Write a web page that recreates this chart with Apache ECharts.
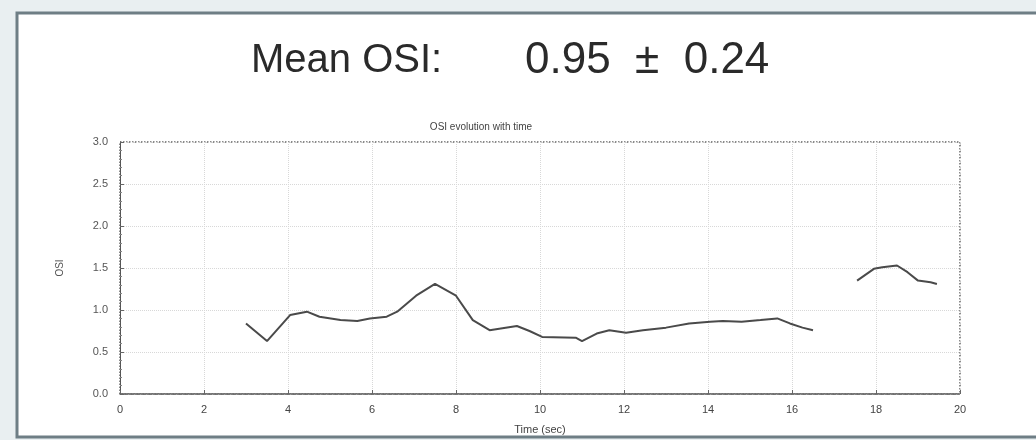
<!DOCTYPE html>
<html>
<head>
<meta charset="utf-8">
<script src="https://cdn.jsdelivr.net/npm/echarts@6/dist/echarts.min.js"></script>
<style>
html,body{margin:0;padding:0;background:#e9eff1;}
#c{width:1036px;height:440px;}
</style>
</head>
<body>
<div id="c"></div>
<script>
// Time (sec) and OSI values; null marks the gap in the trace
var times = [3.0, 3.5, 4.05, 4.45, 4.75, 5.25, 5.65, 5.95, 6.35, 6.6, 7.05, 7.5, 8.0, 8.4, 8.8, 9.45, 9.75, 10.05, 10.85, 11.0, 11.35, 11.65, 12.05, 12.45, 13.0, 13.55, 14.05, 14.35, 14.8, 15.25, 15.65, 15.95, 16.25, 16.5, 17.0, 17.55, 17.95, 18.15, 18.5, 18.75, 19.0, 19.3, 19.45];
var osi =   [0.84, 0.63, 0.94, 0.98, 0.92, 0.88, 0.87, 0.90, 0.92, 0.98, 1.17, 1.31, 1.17, 0.88, 0.76, 0.81, 0.75, 0.68, 0.67, 0.63, 0.72, 0.76, 0.73, 0.76, 0.79, 0.84, 0.86, 0.87, 0.86, 0.88, 0.90, 0.84, 0.79, 0.76, null, 1.35, 1.49, 1.51, 1.53, 1.45, 1.35, 1.33, 1.31];
var xTicks = [0, 2, 4, 6, 8, 10, 12, 14, 16, 18, 20];
var yTicks = [0.0, 0.5, 1.0, 1.5, 2.0, 2.5, 3.0];
var mainTitle = 'Mean OSI:';
var mainValue = '0.95  ±  0.24';
var subTitle = 'OSI evolution with time';

var pts = times.map(function (t, i) { return [t, osi[i]]; });

var chart = echarts.init(document.getElementById('c'), null, {renderer: 'canvas'});
chart.setOption({
  backgroundColor: 'transparent',
  animation: false,
  graphic: [
    {type: 'rect', shape: {x: 17, y: 13, width: 1030, height: 424}, style: {fill: '#ffffff', stroke: '#6e7e85', lineWidth: 3}, z: -10, silent: true}
  ],
  title: [
    {text: mainTitle, left: 246, top: 36, textStyle: {fontFamily: 'Liberation Sans', fontSize: 40, fontWeight: 'normal', color: '#2a2a2a'}},
    {text: mainValue, left: 520, top: 34, textStyle: {fontFamily: 'Liberation Sans', fontSize: 44, fontWeight: 'normal', color: '#2a2a2a'}},
    {text: subTitle, left: 476, top: 117, textAlign: 'center', textStyle: {fontFamily: 'Liberation Sans', fontSize: 10, fontWeight: 'normal', color: '#444'}}
  ],
  grid: {left: 120, right: 76, top: 142, bottom: 43, show: true, borderColor: '#666', borderWidth: 1.5, borderType: 'dotted', backgroundColor: 'transparent'},
  xAxis: {
    type: 'value', min: 0, max: 20, interval: 2,
    name: 'Time (sec)', nameLocation: 'middle', nameGap: 30,
    nameTextStyle: {fontFamily: 'Liberation Sans', fontSize: 11, color: '#444'},
    axisLine: {show: true, lineStyle: {color: '#555', type: 'dotted', width: 1.5}},
    axisTick: {show: true, inside: true, length: 4, lineStyle: {color: '#666'}},
    axisLabel: {fontFamily: 'Liberation Sans', fontSize: 11, color: '#444', margin: 10,
      formatter: function (v) { return xTicks.indexOf(v) >= 0 ? String(v) : ''; }},
    splitLine: {show: true, lineStyle: {color: '#d8d8d8', type: 'dotted'}}
  },
  yAxis: {
    type: 'value', min: 0, max: 3, interval: 0.5,
    name: 'OSI', nameLocation: 'middle', nameGap: 55, nameRotate: 90,
    nameTextStyle: {fontFamily: 'Liberation Sans', fontSize: 10, color: '#555'},
    axisLine: {show: true, lineStyle: {color: '#555', width: 1}},
    axisTick: {show: true, inside: true, length: 4, lineStyle: {color: '#666'}},
    minorTick: {show: true, splitNumber: 5, length: 2, lineStyle: {color: '#888'}},
    axisLabel: {fontFamily: 'Liberation Sans', fontSize: 11, color: '#555', margin: 12,
      formatter: function (v) { return yTicks.indexOf(v) >= 0 ? v.toFixed(1) : ''; }},
    splitLine: {show: true, lineStyle: {color: '#d8d8d8', type: 'dotted'}}
  },
  series: [{
    type: 'line', data: pts, showSymbol: false, connectNulls: false,
    lineStyle: {color: '#4a4a4a', width: 2}
  }]
});
</script>
</body>
</html>
